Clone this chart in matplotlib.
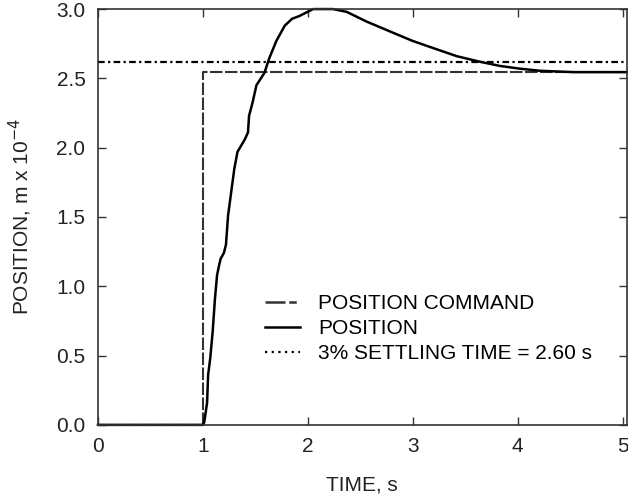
import matplotlib.pyplot as plt
from matplotlib.lines import Line2D

# data
time_cmd = [0.0, 1.0, 1.0, 5.04]
pos_cmd = [0.0, 0.0, 2.545, 2.545]

time_pos = [0.0, 1.0, 1.013, 1.04, 1.05, 1.07, 1.093, 1.115, 1.135, 1.157, 1.17,
            1.20, 1.22, 1.24, 1.27, 1.30, 1.33, 1.40, 1.43, 1.44, 1.475, 1.51,
            1.587, 1.63, 1.70, 1.78, 1.85, 1.92, 2.05, 2.24, 2.37, 2.56, 2.81,
            3.0, 3.19, 3.42, 3.64, 3.83, 4.02, 4.21, 4.53, 5.04]
pos = [0.0, 0.0, 0.02, 0.16, 0.36, 0.48, 0.67, 0.91, 1.08, 1.16, 1.20,
       1.24, 1.30, 1.51, 1.68, 1.85, 1.97, 2.06, 2.11, 2.23, 2.33, 2.45,
       2.54, 2.64, 2.77, 2.88, 2.93, 2.95, 3.0, 3.0, 2.98, 2.91, 2.83,
       2.77, 2.72, 2.66, 2.62, 2.59, 2.57, 2.555, 2.545, 2.545]

settle_level = 2.62
x_ticks = [0, 1, 2, 3, 4, 5]
y_ticks = [0.0, 0.5, 1.0, 1.5, 2.0, 2.5, 3.0]

plt.rcParams["font.family"] = ["Liberation Sans", "DejaVu Sans"]
plt.rcParams["font.size"] = 15

fig = plt.figure(figsize=(6.28, 5.04), dpi=100)
ax = fig.add_axes([0.156, 0.157, 0.842, 0.825])

ax.plot(time_cmd, pos_cmd, color="#333333", lw=1.5, dashes=(6, 1.2), clip_on=False)
ax.plot(time_pos, pos, color="black", lw=1.8, clip_on=False)
ax.axhline(settle_level, color="black", lw=1.6, dashes=(3, 1.5, 1, 1.5))

ax.set_xlim(0, 5.04)
ax.set_ylim(0, 3.0)
ax.set_xticks(x_ticks)
ax.set_yticks(y_ticks)
ax.set_yticklabels(["%.1f" % v for v in y_ticks])
ax.tick_params(direction="in", length=6, width=1, top=True, right=True,
               colors="#333333", labelcolor="#222222", pad=9)
for s in ax.spines.values():
    s.set_color("#333333")
    s.set_linewidth(1.2)

ax.set_xlabel("TIME, s", color="#222222", labelpad=14)
ax.set_ylabel("POSITION, m x 10$^{-4}$", color="#222222", labelpad=16)

handles = [
    Line2D([], [], color="#333333", lw=1.8, dashes=(8, 1.5, 3, 1.5)),
    Line2D([], [], color="black", lw=1.8),
    Line2D([], [], color="black", lw=1.6, dashes=(1, 2)),
]
ax.legend(handles, ["POSITION COMMAND", "POSITION", "3% SETTLING TIME = 2.60 s"],
          loc="lower left", bbox_to_anchor=(0.28, 0.103), frameon=False,
          handlelength=1.7, handletextpad=0.85, labelspacing=0.3)

plt.savefig("out.png", dpi=100)
